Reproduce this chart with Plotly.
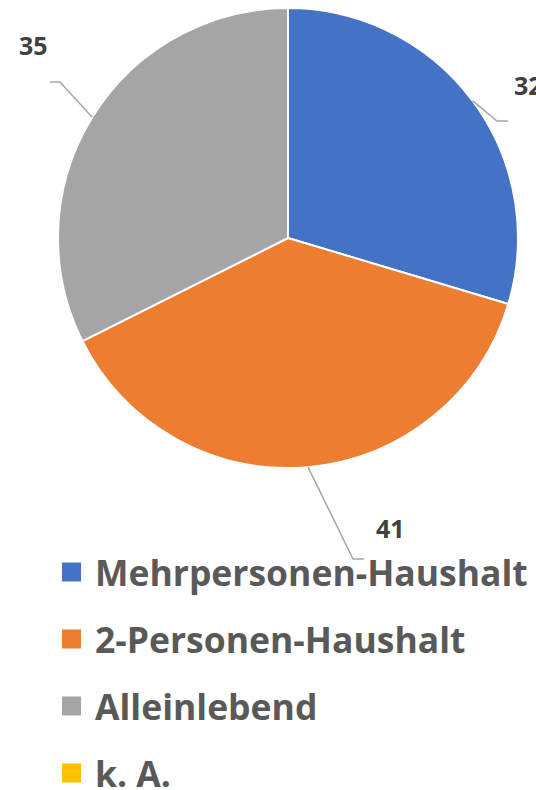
import math
import plotly.graph_objects as go

W, H = 536, 790

categories = ["Mehrpersonen-Haushalt", "2-Personen-Haushalt", "Alleinlebend", "k. A."]
values = [32, 41, 35, 0]
colors = ["#4472C4", "#ED7D31", "#A5A5A5", "#FFC000"]

# pie geometry in pixels
cx, cy, r = 288, 238, 230

# where Excel put the labels (px): label anchor, elbow of the leader line
label_pos = {0: (512, 85, "left"), 1: (390, 528, "center"), 2: (33, 45, "center")}
elbow_pos = {0: ((497, 121), (508, 121)), 1: ((353, 559), (364, 559)), 2: ((60, 82), (50, 82))}

FONT = 'Open Sans'


def px(x, y):
    return x / W, 1 - y / H


fig = go.Figure()

x0, y0 = px(cx - r, cy + r)
x1, y1 = px(cx + r, cy - r)
fig.add_trace(go.Pie(
    labels=categories,
    values=values,
    sort=False,
    direction='clockwise',
    rotation=0,
    marker=dict(colors=colors, line=dict(color='white', width=2)),
    textinfo='none',
    hoverinfo='label+value',
    showlegend=False,
    domain=dict(x=[x0, x1], y=[y0, y1]),
))

# data labels with leader lines
total = sum(values)
cum = 0
for i, v in enumerate(values):
    if v == 0:
        continue
    mid = (cum + v / 2) / total * 2 * math.pi
    cum += v
    ex, ey = cx + r * math.sin(mid), cy - r * math.cos(mid)
    (bx, by), (tx, ty) = elbow_pos[i]
    path = "M{},{} L{},{} L{},{}".format(*px(ex, ey), *px(bx, by), *px(tx, ty))
    fig.add_shape(type='path', path=path, xref='paper', yref='paper',
                  line=dict(color='#A6A6A6', width=1.5))
    lx, ly, anchor = label_pos[i]
    ax, ay = px(lx, ly)
    fig.add_annotation(x=ax, y=ay, xref='paper', yref='paper', text=f"<b>{v}</b>",
                       showarrow=False, xanchor=anchor, yanchor='middle',
                       font=dict(family=FONT, size=25, color='#404040'))

# legend drawn by hand so the row spacing matches
for i, (name, col) in enumerate(zip(categories, colors)):
    yc = 572 + 67 * i
    fig.add_shape(type='rect', xref='paper', yref='paper',
                  x0=62 / W, x1=81 / W, y0=1 - (yc + 9.5) / H, y1=1 - (yc - 9.5) / H,
                  fillcolor=col, line=dict(width=0))
    fig.add_annotation(x=93 / W, y=1 - yc / H, xref='paper', yref='paper',
                       text=f"<b>{name}</b>", showarrow=False, xanchor='left', yanchor='middle',
                       font=dict(family=FONT, size=35.5, color='#595959'))

fig.update_layout(
    width=W, height=H,
    margin=dict(l=0, r=0, t=0, b=0),
    paper_bgcolor='white',
    plot_bgcolor='white',
    showlegend=False,
)

fig.write_html("out.html", config={'displayModeBar': False},
               post_script="document.body.style.margin='0';")
